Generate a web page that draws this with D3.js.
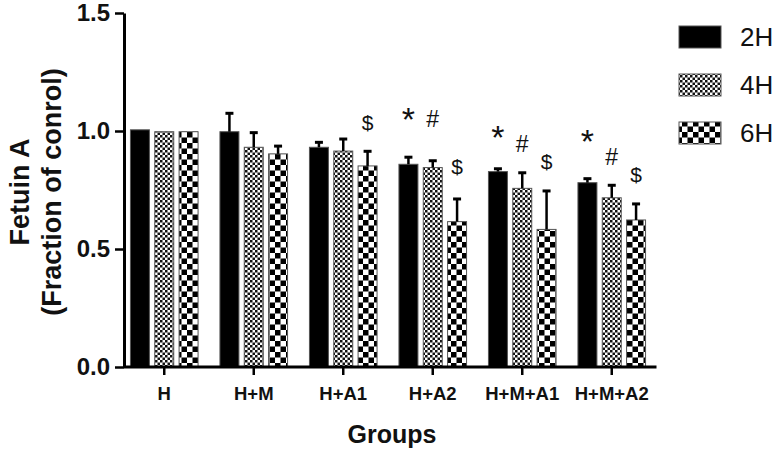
<!DOCTYPE html>
<html>
<head>
<meta charset="utf-8">
<script src="https://cdn.jsdelivr.net/npm/d3@7"></script>
<style>
  html, body { margin: 0; padding: 0; background: #fff; }
  svg { display: block; font-family: "Liberation Sans", Arial, Helvetica, sans-serif; }
</style>
</head>
<body>
<svg id="chart" width="776" height="449"></svg>
<script>
// ---- data ----
const groups = ["H", "H+M", "H+A1", "H+A2", "H+M+A1", "H+M+A2"];
const series = ["2H", "4H", "6H"];
const values2H = [1.005, 0.997, 0.931, 0.859, 0.828, 0.781];
const values4H = [0.997, 0.931, 0.915, 0.845, 0.757, 0.717];
const values6H = [0.997, 0.903, 0.852, 0.616, 0.583, 0.623];
const errors2H = [0, 0.078, 0.021, 0.030, 0.012, 0.017];
const errors4H = [0, 0.062, 0.051, 0.029, 0.066, 0.053];
const errors6H = [0, 0.033, 0.062, 0.096, 0.163, 0.068];
const yTicks = [0, 0.5, 1.0, 1.5];
const yTickLabels = ["0.0", "0.5", "1.0", "1.5"];
// significance marks: group, series, symbol, level (data units of glyph centre)
const markGroups = ["H+A1", "H+A2", "H+A2", "H+A2", "H+M+A1", "H+M+A1", "H+M+A1", "H+M+A2", "H+M+A2", "H+M+A2"];
const markSeries = ["6H", "2H", "4H", "6H", "2H", "4H", "6H", "2H", "4H", "6H"];
const markSymbols = ["$", "*", "#", "$", "*", "#", "$", "*", "#", "$"];
const markLevels = [1.038, 1.082, 1.051, 0.849, 1.007, 0.944, 0.873, 0.990, 0.891, 0.817];

const valuesBySeries = { "2H": values2H, "4H": values4H, "6H": values6H };
const errorsBySeries = { "2H": errors2H, "4H": errors4H, "6H": errors6H };

const rows = [];
groups.forEach((g, gi) => series.forEach(s => rows.push({
  group: g, series: s, value: valuesBySeries[s][gi], err: errorsBySeries[s][gi]
})));

// ---- layout ----
const svg = d3.select("#chart");
const axisX = 124;
const y = d3.scaleLinear().domain([0, 1.5]).range([367, 13]);
const x0 = d3.scaleBand().domain(groups).range([119.5, 656.5]).padding(0);
const x1 = d3.scaleBand().domain(series).range([0, x0.bandwidth()]).paddingInner(0.22).paddingOuter(0.45);

// patterns
const defs = svg.append("defs");
const p4 = defs.append("pattern").attr("id", "pat4").attr("patternUnits", "userSpaceOnUse")
  .attr("width", 5).attr("height", 5);
p4.append("rect").attr("width", 5).attr("height", 5).attr("fill", "#fff");
p4.append("rect").attr("width", 2.5).attr("height", 2.5).attr("fill", "#111");
p4.append("rect").attr("x", 2.5).attr("y", 2.5).attr("width", 2.5).attr("height", 2.5).attr("fill", "#111");
const p6 = defs.append("pattern").attr("id", "pat6").attr("patternUnits", "userSpaceOnUse")
  .attr("width", 11).attr("height", 11);
p6.append("rect").attr("width", 11).attr("height", 11).attr("fill", "#fff");
p6.append("rect").attr("width", 5.5).attr("height", 5.5).attr("fill", "#000");
p6.append("rect").attr("x", 5.5).attr("y", 5.5).attr("width", 5.5).attr("height", 5.5).attr("fill", "#000");

const fillFor = s => s === "2H" ? "#000" : (s === "4H" ? "url(#pat4)" : "url(#pat6)");

// bars
const bx = d => x0(d.group) + x1(d.series);
svg.append("g").selectAll("rect").data(rows).join("rect")
  .attr("x", bx)
  .attr("y", d => y(d.value))
  .attr("width", x1.bandwidth())
  .attr("height", d => y(0) - y(d.value))
  .attr("fill", d => fillFor(d.series))
  .attr("stroke", "#555")
  .attr("stroke-width", 1);

// error bars (upper only)
const eb = svg.append("g").attr("stroke", "#000");
const withErr = rows.filter(d => d.err > 0);
eb.selectAll("line.v").data(withErr).join("line").attr("class", "v")
  .attr("x1", d => bx(d) + x1.bandwidth() / 2).attr("x2", d => bx(d) + x1.bandwidth() / 2)
  .attr("y1", d => y(d.value)).attr("y2", d => y(d.value + d.err))
  .attr("stroke-width", 2.5);
eb.selectAll("line.c").data(withErr).join("line").attr("class", "c")
  .attr("x1", d => bx(d) + x1.bandwidth() / 2 - 4).attr("x2", d => bx(d) + x1.bandwidth() / 2 + 4)
  .attr("y1", d => y(d.value + d.err)).attr("y2", d => y(d.value + d.err))
  .attr("stroke-width", 3);

// significance marks
const markFont = { "*": 34, "#": 23, "$": 21 };
const markShift = { "*": 0.57, "#": 0.36, "$": 0.36 };
svg.append("g").selectAll("text").data(markSymbols.map((s, i) => ({
  sym: s, group: markGroups[i], series: markSeries[i], level: markLevels[i]
}))).join("text")
  .attr("x", d => x0(d.group) + x1(d.series) + x1.bandwidth() / 2)
  .attr("y", d => y(d.level) + markShift[d.sym] * markFont[d.sym])
  .attr("text-anchor", "middle")
  .attr("font-size", d => markFont[d.sym])
  .attr("fill", "#111")
  .text(d => d.sym);

// y axis
const yAxis = d3.axisLeft(y).tickValues(yTicks).tickFormat((d, i) => yTickLabels[i])
  .tickSize(9).tickSizeOuter(0).tickPadding(5);
const gy = svg.append("g").attr("transform", `translate(${axisX},0)`).call(yAxis);
gy.select(".domain").attr("stroke", "#000").attr("stroke-width", 3);
gy.selectAll(".tick line").attr("stroke", "#000").attr("stroke-width", 2.5);
gy.selectAll(".tick text").attr("font-size", 24).attr("font-weight", "bold").attr("fill", "#111")
  .attr("font-family", "Liberation Sans, Arial, sans-serif");

// x axis
const xAxis = d3.axisBottom(x0).tickSize(8).tickSizeOuter(0).tickPadding(12);
const gx = svg.append("g").attr("transform", `translate(0,${y(0)})`).call(xAxis);
gx.select(".domain").remove();
gx.append("line").attr("x1", axisX).attr("x2", 656.5).attr("y1", 0).attr("y2", 0)
  .attr("stroke", "#000").attr("stroke-width", 3);
gx.selectAll(".tick line").attr("stroke", "#000").attr("stroke-width", 2.5);
gx.selectAll(".tick text").attr("font-size", 18.5).attr("font-weight", "bold").attr("fill", "#111")
  .attr("font-family", "Liberation Sans, Arial, sans-serif");

// axis titles
svg.append("text").attr("x", 392).attr("y", 443).attr("text-anchor", "middle")
  .attr("font-size", 25).attr("font-weight", "bold").attr("fill", "#111").text("Groups");
const yt = svg.append("text").attr("transform", "translate(29,192) rotate(-90)")
  .attr("text-anchor", "middle").attr("font-size", 27).attr("font-weight", "bold").attr("fill", "#111");
yt.append("tspan").attr("x", 0).attr("y", 0).text("Fetuin A");
yt.append("tspan").attr("x", 0).attr("y", 31.5).text("(Fraction of conrol)");

// legend
const legY = d3.scalePoint().domain(series).range([37, 133]);
const lg = svg.append("g");
lg.selectAll("rect").data(series).join("rect")
  .attr("x", 679).attr("y", d => legY(d) - 11).attr("width", 42).attr("height", 22)
  .attr("fill", fillFor).attr("stroke", "#555").attr("stroke-width", 1);
lg.selectAll("text").data(series).join("text")
  .attr("x", 740).attr("y", d => legY(d)).attr("dy", "0.36em")
  .attr("font-size", 26).attr("fill", "#111").text(d => d);
</script>
</body>
</html>
